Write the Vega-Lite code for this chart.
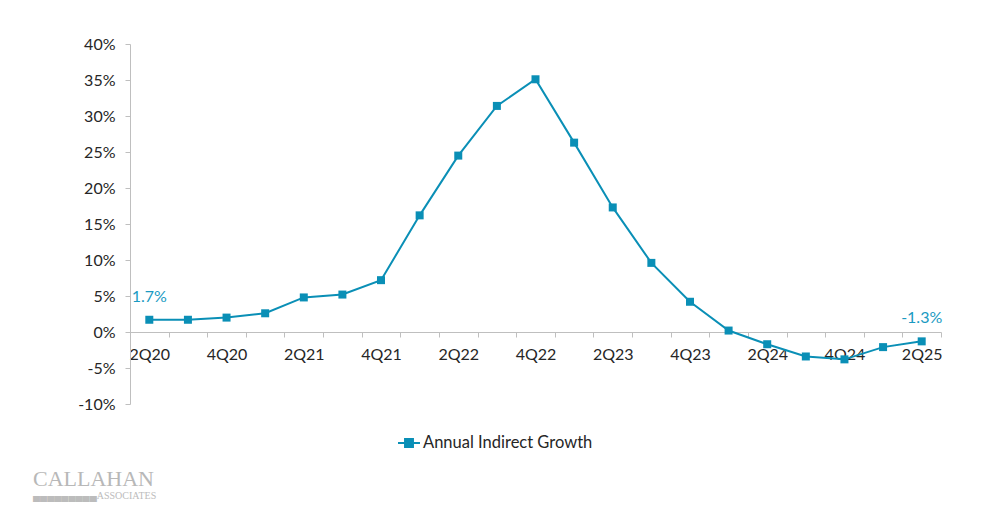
{
  "$schema": "https://vega.github.io/schema/vega-lite/v6.json",
  "autosize": {"type": "none"},
  "width": 811,
  "height": 360,
  "padding": {"left": 130, "top": 44, "right": 59, "bottom": 105},
  "background": "white",
  "config": {
    "view": {"stroke": null},
    "font": "Lato",
    "axis": {"labelFont": "Lato", "labelColor": "#262626", "labelFontSize": 16, "domainColor": "#bfbfbf", "tickColor": "#bfbfbf", "grid": false, "title": null}
  },
  "title": {
    "text": "CALLAHAN",
    "subtitle": "\u2584\u2584\u2584\u2584\u2584\u2584\u2584\u2584\u2584ASSOCIATES",
    "orient": "bottom",
    "anchor": "start",
    "frame": "group",
    "dx": -97,
    "offset": 17,
    "font": "Liberation Serif",
    "fontSize": 22,
    "fontWeight": "normal",
    "color": "#b8b8b8",
    "subtitleFont": "Liberation Serif",
    "subtitleFontSize": 10,
    "subtitleColor": "#bcbcbc",
    "subtitlePadding": 0
  },
  "data": {
    "values": [
      {"q": "2Q20", "v": 1.7, "label": "1.7%"},
      {"q": "3Q20", "v": 1.7, "label": ""},
      {"q": "4Q20", "v": 2.0, "label": ""},
      {"q": "1Q21", "v": 2.6, "label": ""},
      {"q": "2Q21", "v": 4.8, "label": ""},
      {"q": "3Q21", "v": 5.2, "label": ""},
      {"q": "4Q21", "v": 7.2, "label": ""},
      {"q": "1Q22", "v": 16.2, "label": ""},
      {"q": "2Q22", "v": 24.5, "label": ""},
      {"q": "3Q22", "v": 31.4, "label": ""},
      {"q": "4Q22", "v": 35.1, "label": ""},
      {"q": "1Q23", "v": 26.3, "label": ""},
      {"q": "2Q23", "v": 17.3, "label": ""},
      {"q": "3Q23", "v": 9.6, "label": ""},
      {"q": "4Q23", "v": 4.2, "label": ""},
      {"q": "1Q24", "v": 0.2, "label": ""},
      {"q": "2Q24", "v": -1.7, "label": ""},
      {"q": "3Q24", "v": -3.4, "label": ""},
      {"q": "4Q24", "v": -3.8, "label": ""},
      {"q": "1Q25", "v": -2.1, "label": ""},
      {"q": "2Q25", "v": -1.3, "label": "-1.3%"}
    ]
  },
  "encoding": {
    "x": {
      "field": "q", "type": "nominal", "sort": null,
      "scale": {"paddingInner": 0, "paddingOuter": 0},
      "axis": {
        "orient": "bottom", "offset": -72, "labelAngle": 0,
        "tickBand": "extent", "tickSize": 5, "labelPadding": 9,
        "labelExpr": "(substring(datum.value,0,1)=='2' || substring(datum.value,0,1)=='4') ? datum.value : ''"
      }
    },
    "y": {
      "field": "v", "type": "quantitative",
      "scale": {"domain": [-10, 40], "nice": false, "zero": false},
      "axis": {"values": [-10, -5, 0, 5, 10, 15, 20, 25, 30, 35, 40], "tickSize": 5, "labelPadding": 10, "labelExpr": "datum.value + '%'"}
    }
  },
  "layer": [
    {
      "mark": {"type": "line", "strokeWidth": 2, "point": {"shape": "square", "size": 64, "filled": true, "opacity": 1}},
      "encoding": {
        "color": {
          "datum": "Annual Indirect Growth",
          "scale": {"range": ["#0a8fb6"]},
          "legend": {
            "orient": "none", "legendX": 267, "legendY": 387, "title": null, "padding": 0,
            "symbolType": "M-1,0H1M-0.36,-0.36H0.36V0.36H-0.36Z",
            "symbolSize": 484, "symbolStrokeWidth": 2, "symbolFillColor": "#0a8fb6", "symbolStrokeColor": "#0a8fb6",
            "labelFont": "Lato", "labelFontSize": 16.5, "labelColor": "#262626", "labelOffset": 2, "labelLimit": 400
          }
        }
      }
    },
    {
      "transform": [{"filter": "datum.label != ''"}],
      "mark": {"type": "text", "dy": -23, "fontSize": 16, "font": "Lato", "color": "#1a9ac2"},
      "encoding": {"text": {"field": "label"}}
    }
  ]
}
